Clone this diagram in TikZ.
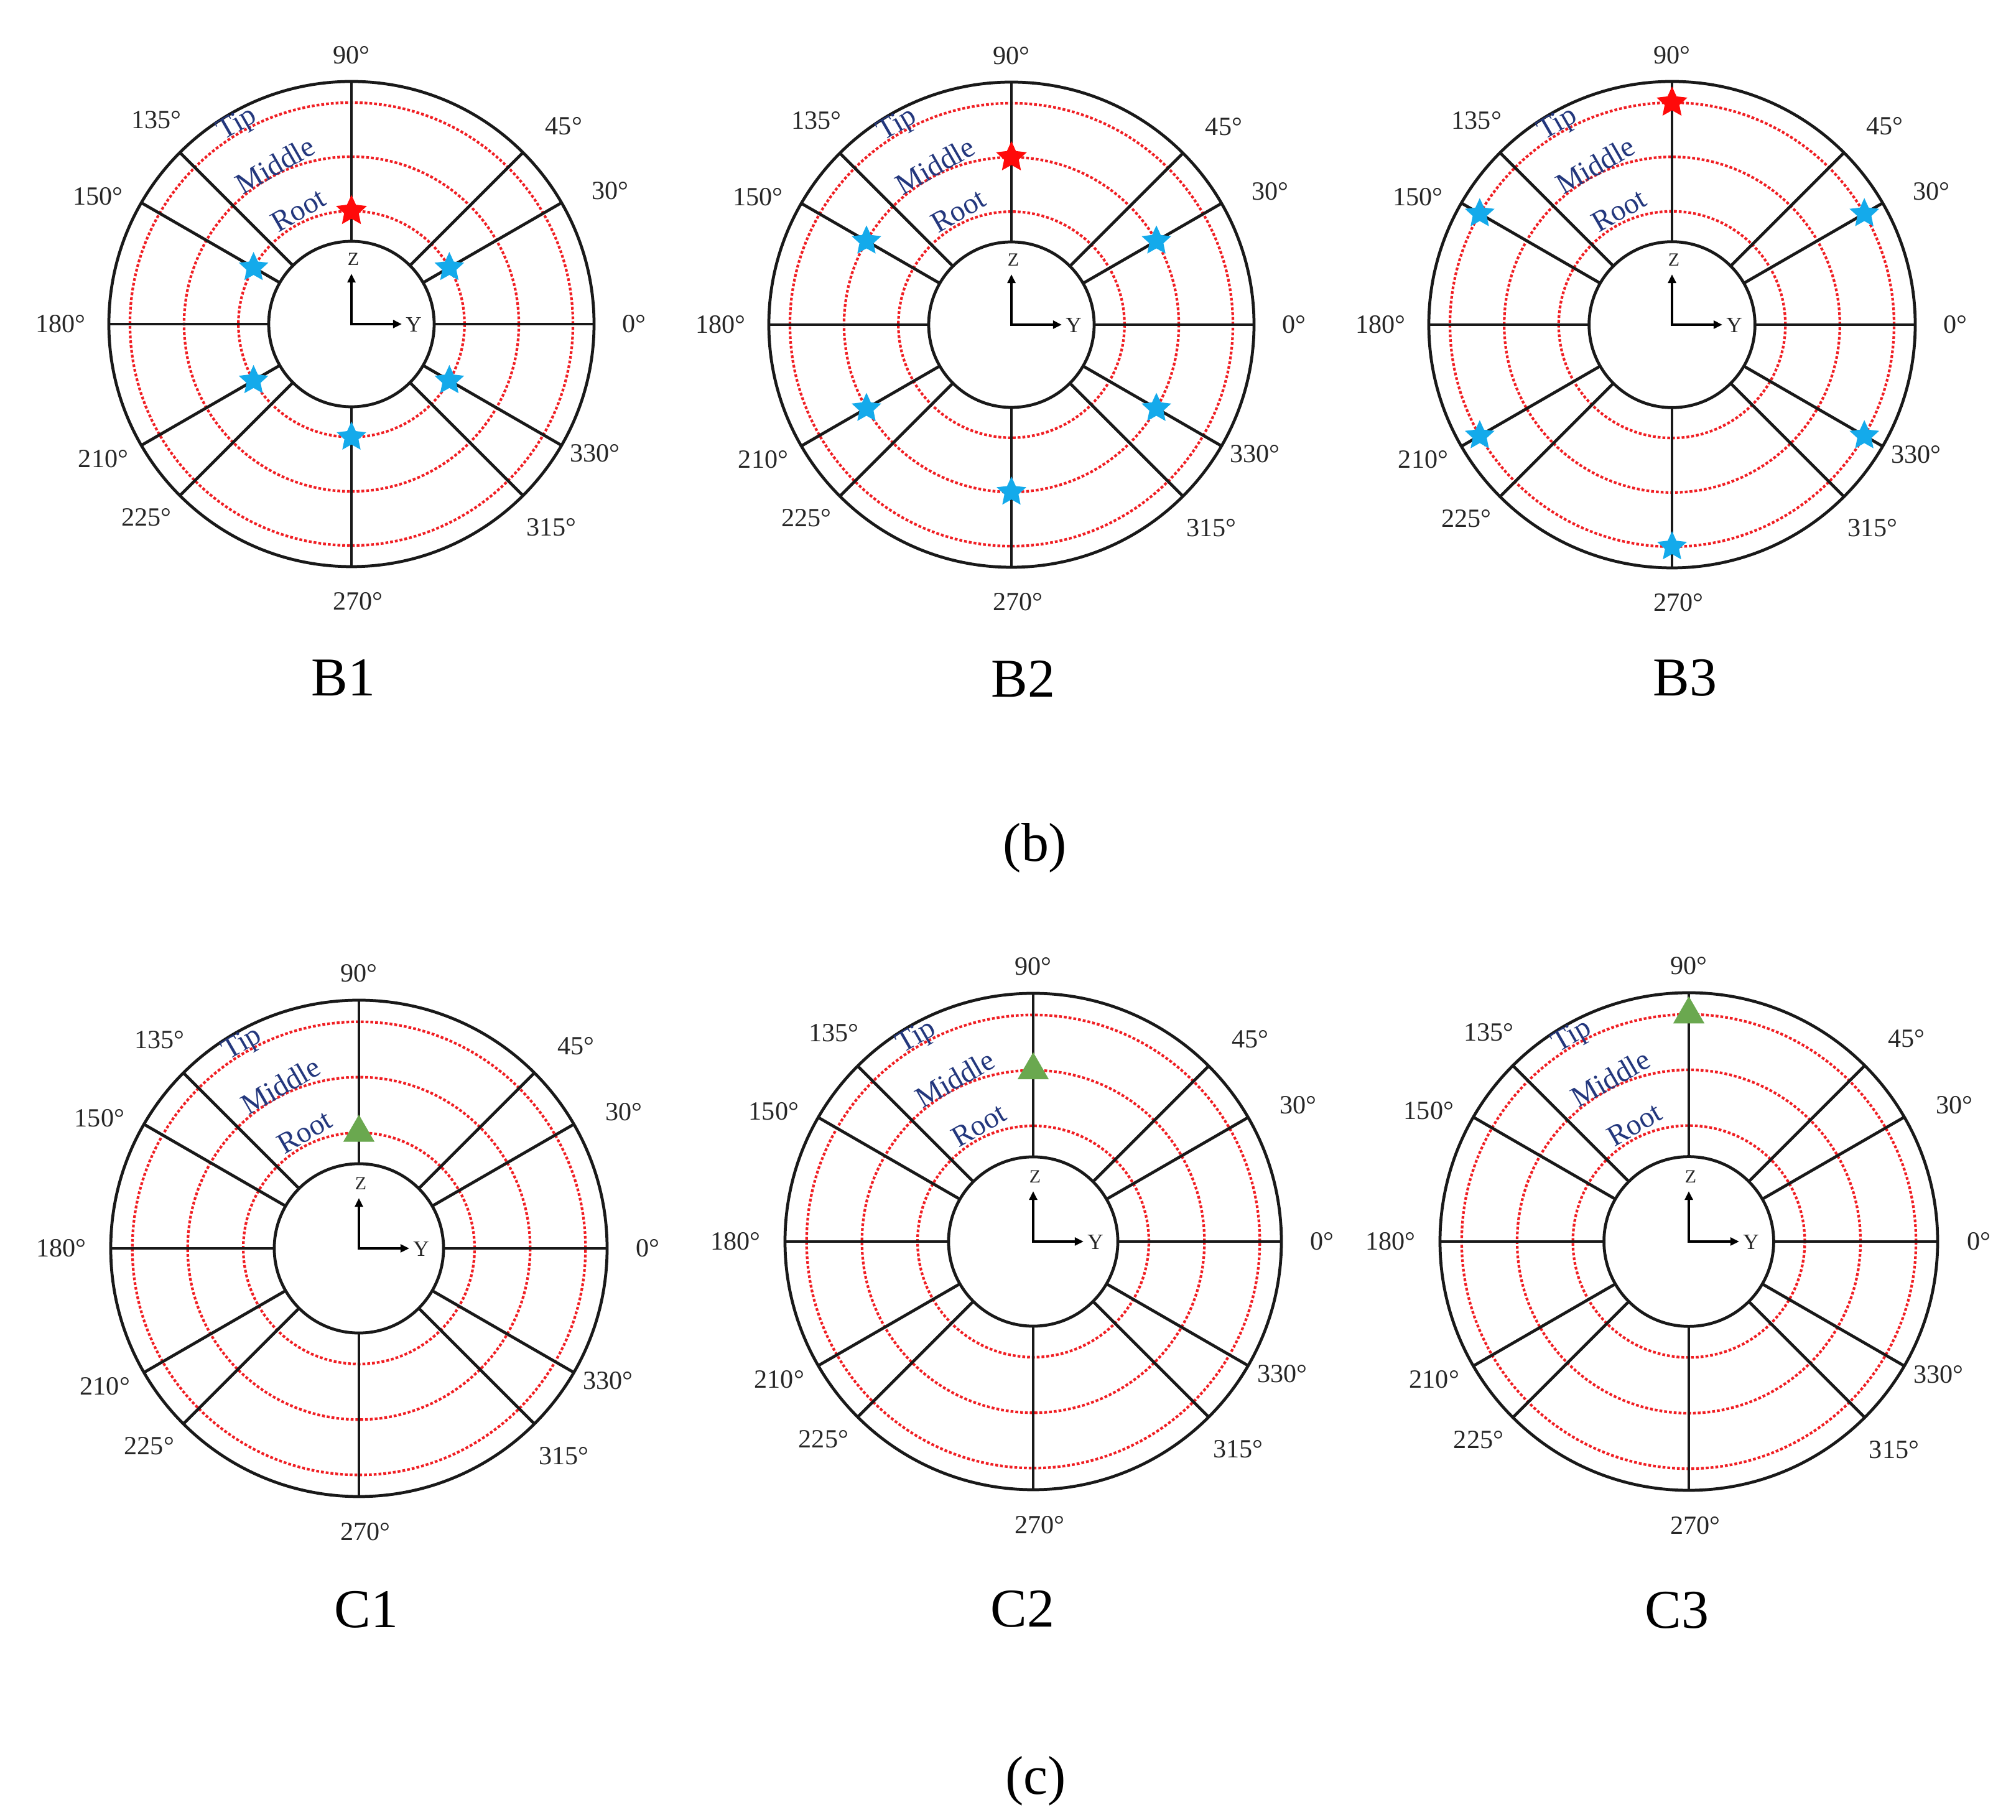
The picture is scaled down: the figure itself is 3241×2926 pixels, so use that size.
\documentclass[tikz,border=0pt]{standalone}
\usepackage{fontspec}
\setmainfont{Liberation Serif}
\usetikzlibrary{shapes.geometric,arrows.meta}
\definecolor{navyt}{RGB}{35,55,125}
\definecolor{starblue}{RGB}{20,170,235}
\definecolor{starred}{RGB}{255,10,10}
\definecolor{trigreen}{RGB}{106,168,79}
\definecolor{dotred}{RGB}{240,30,35}
\tikzset{
  blk/.style={line width=1.35pt, black!90},
  reddot/.style={line width=1.2pt, dotred, dash pattern=on 1.3pt off 0.9pt},
  deg/.style={font=\fontsize{12}{14}\selectfont, text=black!85, inner sep=0pt},
  lvl/.style={font=\fontsize{13.5}{16}\selectfont, text=navyt, inner sep=0pt},
  axl/.style={font=\fontsize{8.5}{10}\selectfont, text=black!85, inner sep=0pt},
  ayl/.style={font=\fontsize{10}{12}\selectfont, text=black!85, inner sep=0pt},
  axisarr/.style={line width=1.3pt, black, line join=miter, {Triangle[length=4pt,width=3.6pt]}-{Triangle[length=4pt,width=3.6pt]}},
  captxt/.style={font=\fontsize{25}{30}\selectfont, text=black, inner sep=0pt},
  redstar/.style={star, star points=5, star point ratio=2.1, fill=starred, draw=none, minimum size=0.52cm, inner sep=0pt},
  bluestar/.style={star, star points=5, star point ratio=2.1, fill=starblue, draw=none, minimum size=0.5cm, inner sep=0pt},
  greentri/.style={regular polygon, regular polygon sides=3, fill=trigreen, draw=none, minimum size=0.58cm, inner sep=0pt}
}
% #1 name, #2 cx, #3 cy (image coords, y down), #4 outer radius, #5 markers
\newcommand\polarpanel[5]{%
\begin{scope}[shift={(#2,2926-#3)}]
  \pgfmathsetmacro\pR{#4}
  \pgfmathsetmacro\pri{0.341*#4}
  \pgfmathsetmacro\prroot{0.466*#4}
  \pgfmathsetmacro\prmid{0.69*#4}
  \pgfmathsetmacro\prtip{0.913*#4}
  \pgfmathsetmacro\plt{0.946*#4}
  \pgfmathsetmacro\plm{0.728*#4}
  \pgfmathsetmacro\plr{0.518*#4}
  \coordinate (#1-o) at (0,0);
  \foreach \rr in {\prroot,\prmid,\prtip}
    \draw[reddot] (#1-o) circle[radius=\rr*0.01cm];
  \foreach \a in {0,30,45,90,135,150,180,210,225,270,315,330}
    \draw[blk] (\a:\pri) -- (\a:\pR);
  \draw[blk] (#1-o) circle[radius=\pri*0.01cm];
  \draw[blk] (#1-o) circle[radius=\pR*0.01cm];
  \foreach \a/\f/\b in {90/1.108/90, 45/1.197/43, 30/1.2/27.2, 0/1.165/0,
      330/1.136/-28, 315/1.175/-45.4, 270/1.142/-88.7, 225/1.161/223.3,
      210/1.164/208.5, 180/1.199/180, 150/1.17/153.3, 135/1.163/133.7}{
    \pgfmathsetmacro\rl{\f*#4}
    \node[deg] (#1-l\a) at (\b:\rl) {\a°};
  }
  \node[lvl, rotate=30] (#1-tip) at (119.7:\plt) {Tip};
  \node[lvl, rotate=30] (#1-mid) at (115.7:\plm) {Middle};
  \node[lvl, rotate=30] (#1-root) at (115:\plr) {Root};
  \coordinate (#1-z) at (0,81);
  \coordinate (#1-y) at (81,0);
  \draw[axisarr] (#1-z) -- (#1-o) -- (#1-y);
  \node[axl] (#1-zl) at (3,104) {Z};
  \node[ayl] (#1-yl) at (100,-1) {Y};
  #5
\end{scope}}

\begin{document}
\begin{tikzpicture}[x=0.01cm, y=0.01cm]
\useasboundingbox[fill=white] (0,0) rectangle (3241,2926);

\polarpanel{B1}{565}{521}{390}{%
  \node[redstar] (B1-m90) at (90:\prroot) {};
  \foreach \a in {30,150,210,270,330} \node[bluestar] (B1-m\a) at (\a:\prroot) {};}
\polarpanel{B2}{1626}{522}{390}{%
  \node[redstar] (B2-m90) at (90:\prmid) {};
  \foreach \a in {30,150,210,270,330} \node[bluestar] (B2-m\a) at (\a:\prmid) {};}
\polarpanel{B3}{2688}{522}{391}{%
  \node[redstar] (B3-m90) at (90:\prtip) {};
  \foreach \a in {30,150,210,270,330} \node[bluestar] (B3-m\a) at (\a:\prtip) {};}

\polarpanel{C1}{577}{2007}{399}{%
  \node[greentri] (C1-m90) at (90:\prroot) {};}
\polarpanel{C2}{1661}{1996}{399}{%
  \node[greentri] (C2-m90) at (90:\prmid) {};}
\polarpanel{C3}{2715}{1996}{400}{%
  \node[greentri] (C3-m90) at (90:\prtip) {};}

\node[captxt] (B1lab) at (552,2926-1090) {B1};
\node[captxt] (B2lab) at (1645,2926-1092) {B2};
\node[captxt] (B3lab) at (2709,2926-1090) {B3};
\node[captxt] (C1lab) at (589,2926-2588) {C1};
\node[captxt] (C2lab) at (1644,2926-2587) {C2};
\node[captxt] (C3lab) at (2696,2926-2589) {C3};
\node[captxt] (blab) at (1664,2926-1363) {(b)};
\node[captxt] (clab) at (1665,2926-2863) {(c)};
\end{tikzpicture}
\end{document}
